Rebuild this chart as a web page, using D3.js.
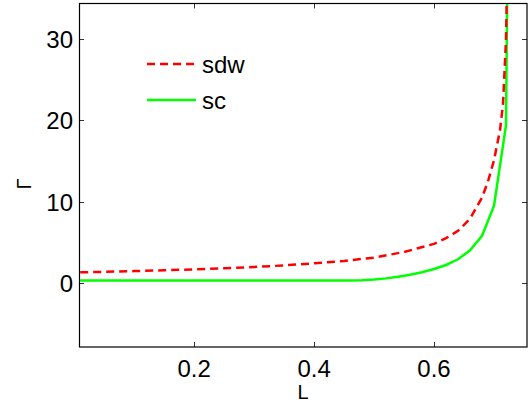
<!DOCTYPE html>
<html lang="en">
<head>
<meta charset="UTF-8">
<title>Gamma vs L</title>
<style>
  body { margin: 0; background: #fff; }
  svg { display: block; font-family: "Liberation Sans", Arial, Helvetica, sans-serif; }
</style>
<script src="https://cdn.jsdelivr.net/npm/d3@7"></script>
</head>
<body>
<script>
// data
const sdwL = [0.01, 0.05, 0.1, 0.15, 0.2, 0.25, 0.3, 0.35, 0.4, 0.45, 0.5, 0.55, 0.6, 0.62, 0.64, 0.66, 0.68, 0.69, 0.7, 0.71, 0.715, 0.72, 0.725];
const sdwG = [1.3, 1.35, 1.45, 1.55, 1.65, 1.8, 1.95, 2.15, 2.4, 2.7, 3.1, 3.8, 4.8, 5.5, 6.4, 7.9, 10.5, 12.5, 15.1, 18.8, 22, 30, 50];
const scL = [0.01, 0.1, 0.2, 0.3, 0.4, 0.46, 0.48, 0.5, 0.52, 0.54, 0.56, 0.58, 0.6, 0.62, 0.64, 0.66, 0.68, 0.7, 0.72, 0.74];
const scG = [0.3, 0.3, 0.3, 0.3, 0.3, 0.3, 0.32, 0.4, 0.55, 0.75, 1.0, 1.3, 1.7, 2.2, 2.9, 4.0, 5.8, 9.5, 19.4, 184];
const xTicks = [0.2, 0.4, 0.6];
const yTicks = [0, 10, 20, 30];
const seriesNames = ["sdw", "sc"];

const W = 530, H = 409;
const box = { left: 79, right: 527, top: 3.5, bottom: 347 };

const x = d3.scaleLinear().domain([0.008, 0.755]).range([box.left, box.right]);
const y = d3.scaleLinear().domain([-7.9, 34.4]).range([box.bottom, box.top]);

const svg = d3.select("body").append("svg")
    .attr("width", W)
    .attr("height", H);

svg.append("clipPath").attr("id", "clip")
  .append("rect")
    .attr("x", box.left).attr("y", box.top)
    .attr("width", box.right - box.left).attr("height", box.bottom - box.top);

// ticks, inward on all four sides
const tickLen = 5;
const tickG = svg.append("g").attr("stroke", "#333").attr("stroke-width", 1);
xTicks.forEach(t => {
  const px = Math.round(x(t)) + 0.5;
  tickG.append("line").attr("x1", px).attr("x2", px).attr("y1", box.bottom).attr("y2", box.bottom - tickLen);
  tickG.append("line").attr("x1", px).attr("x2", px).attr("y1", box.top).attr("y2", box.top + tickLen);
});
yTicks.forEach(t => {
  const py = Math.round(y(t)) + 0.5;
  tickG.append("line").attr("x1", box.left).attr("x2", box.left + tickLen).attr("y1", py).attr("y2", py);
  tickG.append("line").attr("x1", box.right).attr("x2", box.right - tickLen).attr("y1", py).attr("y2", py);
});

// lines
const line = d3.line().x(d => x(d[0])).y(d => y(d[1]));
const plot = svg.append("g").attr("clip-path", "url(#clip)");

plot.append("path")
    .datum(d3.zip(scL, scG))
    .attr("fill", "none")
    .attr("stroke", "#00ff00")
    .attr("stroke-width", 2.5)
    .attr("d", line);

plot.append("path")
    .datum(d3.zip(sdwL, sdwG))
    .attr("fill", "none")
    .attr("stroke", "#ff0000")
    .attr("stroke-width", 2.5)
    .attr("stroke-dasharray", "8,5")
    .attr("d", line);

// axes box
svg.append("rect")
    .attr("x", box.left + 0.5).attr("y", box.top)
    .attr("width", box.right - box.left - 0.5).attr("height", box.bottom - box.top)
    .attr("fill", "none")
    .attr("stroke", "#000")
    .attr("stroke-width", 1.2);

// tick labels
svg.append("g").selectAll("text")
  .data(xTicks).join("text")
    .attr("x", d => x(d))
    .attr("y", 377)
    .attr("text-anchor", "middle")
    .attr("font-size", 24)
    .text(d => d3.format(".1f")(d));

svg.append("g").selectAll("text")
  .data(yTicks).join("text")
    .attr("x", 73)
    .attr("y", d => y(d) + 9)
    .attr("text-anchor", "end")
    .attr("font-size", 24)
    .text(d => d);

// axis labels
svg.append("text")
    .attr("x", 303).attr("y", 399)
    .attr("text-anchor", "middle")
    .attr("font-size", 20)
    .text("L");

svg.append("text")
    .attr("transform", "translate(31,184) rotate(-90)")
    .attr("text-anchor", "middle")
    .attr("font-size", 20)
    .text("Γ");

// legend
const legend = svg.append("g");
const legendY = [64, 100];
const legendStyle = [
  { color: "#ff0000", dash: "8,5" },
  { color: "#00ff00", dash: null }
];
seriesNames.forEach((name, i) => {
  legend.append("line")
      .attr("x1", 147).attr("x2", 196)
      .attr("y1", legendY[i]).attr("y2", legendY[i])
      .attr("stroke", legendStyle[i].color)
      .attr("stroke-width", 2.5)
      .attr("stroke-dasharray", legendStyle[i].dash);
  legend.append("text")
      .attr("x", 202)
      .attr("y", legendY[i] + 9)
      .attr("font-size", 24)
      .text(name);
});
</script>
</body>
</html>
